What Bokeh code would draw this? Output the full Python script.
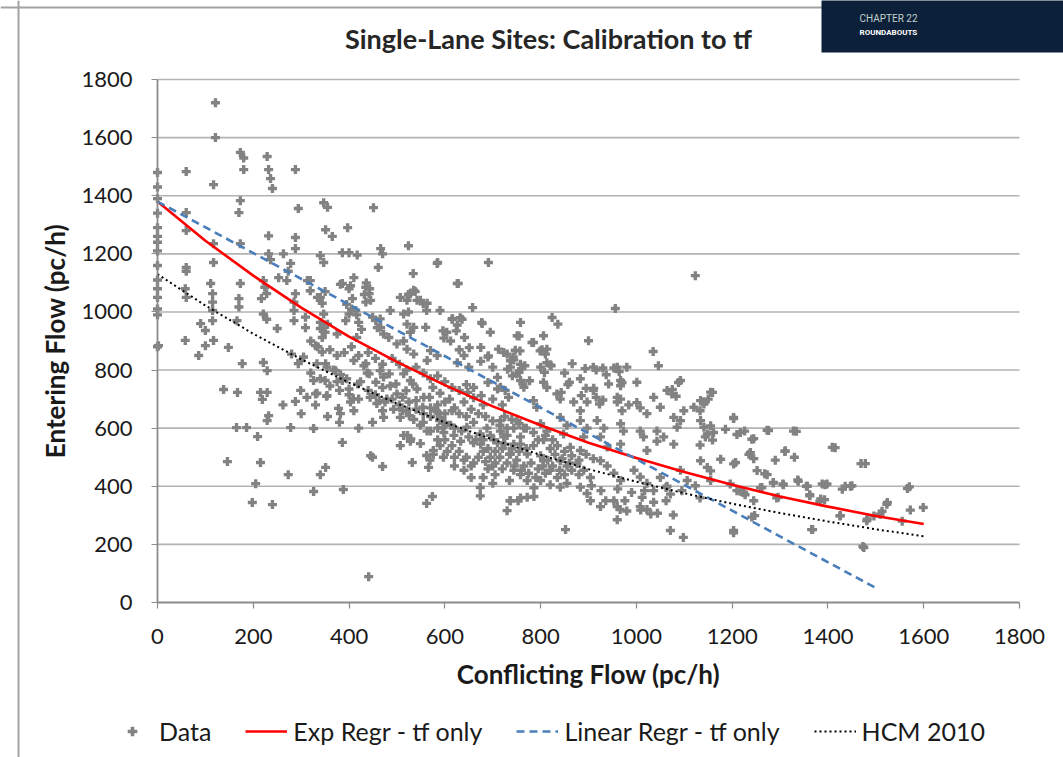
from bokeh.plotting import figure
from bokeh.models import Range1d, Label, Legend, LegendItem, BoxAnnotation, FixedTicker, Span
from bokeh.embed import file_html
from bokeh.resources import INLINE

# ---------------- data ----------------
pts_axis = [(0,1480),(0,1430),(0,1390),(0,1340),(0,1290),(0,1260),(0,1240),(0,1210),(0,1160),
            (0,1110),(0,1080),(0,1050),(0,1010),(0,990),(0,880)]

pts_upper_left = [(121,1720),(121,1600),(60,1483),(117,1438),(173,1549),(180,1530),(180,1490),(229,1535),
    (232,1490),(236,1459),(240,1425),(288,1490),(173,1383),(170,1342),(60,1342),(60,1280),(117,1235),
    (117,1170),(60,1153),(173,1235),(232,1262),(288,1256),(294,1356),(347,1376),(355,1360),(397,1290),
    (351,1283),(365,1260),(451,1359),(466,1218),(470,1200),(524,1228),(585,1170),(386,1204),(400,1204),
    (417,1196),(340,1194),(347,1170),(288,1218),(263,1200),(232,1200),(236,1180),(278,1167),(273,1140),
    (60,1140),(111,1098),(115,1063),(58,1080),(60,1050),(115,1034),(115,1005),(115,970),(173,1098),
    (170,1046),(170,1017),(166,970),(221,1108),(224,1085),(217,1046),(228,1063),(221,993),(228,975),
    (253,1118),(270,1108),(288,1063),(285,1034),(285,1005),(285,970),(250,943),(313,1108),(334,1050),
    (347,993),(355,958),(386,1098),(400,1080),(407,1046),(414,1005),(435,1085),(442,1063),(435,1034),
    (400,993),(393,970),(449,982),(456,970),(466,947),(528,1063),(535,1075),(521,1040),(542,1040),
    (555,1028),(562,1005),(590,1005),(535,947),(560,947),(514,993),(486,1005),(375,924),(340,943),
    (596,935),(100,936),(117,902),(90,960)]

pts_lower_left = [(2,884),(58,902),(86,850),(100,884),(148,878),(177,822),(221,826),(229,798),(138,733),
    (167,723),(215,723),(229,723),(219,699),(288,692),(232,643),(229,626),(165,602),(186,602),(278,602),
    (326,599),(209,571),(146,485),(215,482),(273,440),(340,440),(351,465),(205,409),(198,344),(240,337),
    (326,382),(388,389),(386,551),(378,668),(382,650),(441,89),(449,620),(449,500),(470,468),(522,575),
    (529,563),(549,547),(532,482),(562,506),(569,490),(566,465),(562,341),(574,365),(576,523),(585,560),
    (326,764),(350,764),(330,718),(353,710),(294,822),(280,855),(330,884),(344,862),(351,822),(372,798),
    (386,764),(400,735),(409,701),(418,752),(435,822),(442,787),(456,758),(470,740),(484,787),(498,752),
    (512,706),(519,729),(533,752),(540,695),(554,672),(568,706),(582,660),(589,626),(596,602),(463,695),
    (470,660),(512,660),(526,643),(262,680),(300,650),(330,680),(355,640),(380,620),(420,600)]

pts_upper_mid = [(691,1170),(628,1098),(1123,1125),(658,1015),(956,1012),(616,977),(632,980),(678,960),
    (695,930),(758,964),(755,917),(806,918),(824,981),(836,958),(785,895),(900,901),(1035,864),(1046,815),
    (1088,757),(1075,733),(1083,710),(1159,723),(1150,700),(1203,637),(866,822),(850,790),(893,805),
    (930,807),(937,784),(953,807),(970,757),(942,752),(857,750),(895,737),(911,737),(843,723),(885,712),
    (967,700),(930,697),(897,690),(799,866),(813,872),(757,866),(743,845),(712,872),(691,849),(675,830),
    (651,877),(641,912),(624,935),(767,815),(777,763),(763,752),(822,815),(808,792),(741,780),(731,803),
    (710,735),(690,757),(676,712),(648,723)]

pts_core_a = [(461,1153),(534,1132),(584,1167),(626,1098),(410,1118),(382,1095),(403,1090),(436,1100),
    (443,1080),(432,1060),(445,1040),(350,1070),(340,1050),(344,1030),(319,1108),(319,1073),(395,1026),
    (405,1010),(416,990),(420,964),(426,940),(416,912),(340,964),(347,946),(350,930),(344,912),(309,982),
    (309,946),(465,976),(459,946),(472,924),(483,912),(507,1050),(524,1060),(538,1070),(549,1040),
    (563,1030),(524,1000),(615,975),(626,955),(636,975),(677,964),(604,930),(598,910),(612,900),(521,958),
    (528,930),(514,900),(500,890),(521,872),(535,855),(570,867),(584,850),(563,833),(630,870),(640,850),
    (626,825),(650,810),(675,878),(690,845),(700,810),(710,775),(730,855),(744,835),(737,810),(750,787),
    (299,833),(305,845),(333,822),(354,810),(368,800),(382,785),(375,760),(395,770),(410,833),(431,815),
    (438,790),(424,760),(465,798),(472,776),(486,745),(500,718),(514,787),(528,764),(542,735),(556,706),
    (333,720),(354,712),(299,730),(312,706),(444,706),(458,685),(479,700),(493,665),(507,637),(403,690),
    (410,660),(472,637),(520,660),(535,630),(549,610),(563,590),(570,640),(590,637),(612,610),(598,585),
    (619,575),(633,555),(646,603),(660,620),(674,580),(688,600),(702,560),(716,590),(730,575),(744,600),
    (758,545),(514,575),(528,555),(507,540),(576,510),(597,500),(445,505)]

pts_core_b = [(751,918),(782,895),(803,870),(810,855),(723,860),(747,868),(737,832),(758,820),(760,805),
    (755,792),(800,810),(813,825),(820,818),(883,770),(860,758),(806,758),(813,740),(910,810),(916,800),
    (960,810),(964,795),(980,810),(967,764),(967,746),(1001,758),(1092,764),(1064,730),(1074,718),
    (1155,724),(1134,695),(1141,683),(716,741),(726,730),(733,706),(758,764),(765,741),(785,695),(792,672),
    (834,718),(841,700),(869,690),(883,660),(910,730),(916,706),(923,683),(960,706),(960,690),(970,660),
    (984,680),(1001,688),(1008,670),(1022,650),(1036,706),(1050,672),(1078,637),(1092,626),(1085,603),
    (1134,626),(1141,603),(1148,580),(1161,585),(1099,660),(1120,672),(1043,590),(1057,570),(1043,555),
    (1078,545),(1008,590),(1015,570),(1022,523),(967,615),(973,590),(967,545),(918,626),(932,600),
    (925,570),(939,535),(883,626),(897,600),(890,570),(883,523),(841,637),(855,610),(848,580),(862,534),
    (800,615),(813,590),(806,560),(820,530),(806,488),(751,626),(765,600),(758,570),(744,545),(772,511),
    (716,626),(730,600),(723,570),(737,511),(841,488),(855,470),(876,478),(890,455),(904,430),(925,488),
    (939,470),(953,445),(967,420),(995,455),(1008,432),(1022,410),(1036,385),(1050,430),(1064,400),
    (1071,373),(1092,455),(1106,420),(1134,488),(1148,465),(1155,420),(744,455),(758,440),(772,420),
    (786,395),(800,420),(820,405),(841,397),(855,410),(883,397),(897,375),(904,350),(925,330),(953,350),
    (960,330),(980,315),(1008,330),(1022,320),(737,350),(758,360),(786,365)]

pts_core_c = [(600,560),(615,540),(630,520),(645,500),(660,480),(620,470),(640,455),(655,430),(680,520),
    (695,500),(705,480),(690,460),(705,440),(720,460),(735,420),(700,410),(680,430),(660,550),(675,545),
    (690,530),(705,520),(720,530),(735,510),(750,490),(765,470),(780,480),(795,460),(810,445),(825,470),
    (840,455),(600,620),(585,600),(570,590),(555,620),(600,650),(620,670),(640,690),(660,705),(680,680),
    (700,700),(720,680),(610,700),(590,720),(575,740)]

pts_core_d = [(585,680),(600,690),(615,660),(630,650),(645,640),(655,665),(670,650),(685,640),(700,625),
    (715,610),(725,640),(740,630),(755,615),(770,600),(785,585),(795,560),(810,575),(825,560),(835,540),
    (850,520),(865,505),(880,490),(895,510),(910,495),(620,600),(635,590),(650,570),(665,560),(680,560),
    (695,575),(710,550),(725,545),(740,530),(755,520),(770,530),(785,540),(800,505),(815,490),(830,510),
    (845,495),(860,480),(590,540),(605,520),(620,500),(640,490),(655,470),(670,500),(685,485),(700,470),
    (715,500),(730,480),(745,470),(760,455),(775,445),(790,430),(805,470),(820,455),(835,430),(850,440),
    (865,455),(880,440),(320,900),(335,880),(360,870),(375,850),(390,860),(405,880),(420,850),(440,860),
    (455,840),(470,820),(490,840),(505,820),(520,800),(540,810),(555,790),(570,770),(585,780),(600,760),
    (615,740),(630,730),(645,750),(660,740),(320,790),(340,770),(360,745),(380,730),(400,715),(420,700),
    (440,730),(455,715),(475,690),(490,700),(505,680),(525,690),(540,665),(555,650),(570,670),(585,655)]

pts_lower_mid = [(674,396),(674,367),(730,316),(736,350),(753,350),(772,362),(852,251),(960,285),(1071,248),
    (1098,224),(1203,248),(1077,301),(1044,307),(1030,305),(1009,318),(936,350),(966,320),(976,350),
    (1012,362),(1036,345),(926,385),(906,402),(961,391),(990,379),(1017,385),(1062,350),(1062,396),
    (1095,385),(1123,402)]

pts_right = [(1203,633),(1217,585),(1226,590),(1245,564),(1276,592),(1334,589),(1207,482),(1235,510),
    (1245,495),(1252,454),(1268,443),(1290,490),(1310,520),(1330,500),(1415,533),(1478,478),(1286,413),
    (1306,408),(1337,422),(1357,400),(1388,408),(1398,408),(1430,390),(1447,400),(1566,392),(1570,398),
    (1524,344),(1572,318),(1599,327),(1513,314),(1496,298),(1482,287),(1555,280),(1475,189),(1368,251),
    (1426,299),(1385,356),(1362,367),(1296,362),(1247,299),(1203,240),(1224,379),(1210,385),(1262,396),
    (1196,408),(1245,350),(1140,690),(1133,660),(1186,596),(1155,608),(1144,570),(1159,559),(1133,542),
    (1210,578),(1241,562),(1273,593),(1328,590),(1238,516),(1311,522),(1409,534),(1469,478),(1176,493),
    (1155,453),(1203,477),(1273,440),(1286,411),(1307,405),(1338,417),(1355,400),(1394,405),(1436,400),
    (1450,402),(1217,383),(1227,371),(1259,395),(1293,360),(1362,371),(1383,348),(1393,354),(1425,298),
    (1481,281),(1509,304),(1523,338),(1241,294),(1366,251),(1473,193),(1133,360)]

curve_x = [0, 100, 200, 300, 400, 500, 600, 700, 800, 900, 1000, 1100, 1200, 1300, 1400, 1500, 1600]
exp_y = [1380, 1245, 1125, 1015, 915, 828, 748, 675, 610, 550, 497, 449, 405, 365, 330, 298, 270]
hcm_y = [1130, 1022, 925, 837, 757, 685, 620, 561, 508, 459, 416, 376, 340, 308, 279, 252, 228]
lin_x = [0, 1500]
lin_y = [1380, 50]

axis_ticks = [0, 200, 400, 600, 800, 1000, 1200, 1400, 1600, 1800]

all_pts = (pts_axis + pts_upper_left + pts_lower_left + pts_upper_mid + pts_core_a +
           pts_core_b + pts_core_c + pts_core_d + pts_lower_mid + pts_right)
data_x = [q[0] for q in all_pts]
data_y = [q[1] for q in all_pts]

FONT = "Lato"
W, H = 1063, 757
# plot area (0..1800 on both axes) sits at px 157..1019 horizontally and 79..602 vertically
kx = 862 / 1800.0
ky = 523 / 1800.0
x_range = Range1d(-157 / kx, (W - 157) / kx)
y_range = Range1d(-(H - 602) / ky, 602 / ky)

p = figure(width=W, height=H, output_backend="svg", toolbar_location=None,
           x_range=x_range, y_range=y_range, title=None,
           min_border_left=0, min_border_right=0, min_border_top=0, min_border_bottom=0)
p.outline_line_color = None
p.background_fill_color = "white"
p.border_fill_color = "white"
p.grid.visible = False

# outer chart border (left and top edges)
p.add_layout(Span(location=(18 - 157) / kx, dimension="height", line_color="#a3a3a3", line_width=2))
p.add_layout(Span(location=(602 - 7) / ky, dimension="width", line_color="#a3a3a3", line_width=2))

# horizontal gridlines at the tick values
grid_vals = axis_ticks[1:]
p.segment(x0=[axis_ticks[0]] * len(grid_vals), x1=[axis_ticks[-1]] * len(grid_vals),
          y0=grid_vals, y1=grid_vals, line_color="#b3b3b3", line_width=1.6, level="underlay")

for ax in (p.xaxis[0], p.yaxis[0]):
    ax.fixed_location = 0
    ax.bounds = (axis_ticks[0], axis_ticks[-1])
    ax.ticker = FixedTicker(ticks=axis_ticks)
    ax.axis_line_color = "#8c8c8c"
    ax.axis_line_width = 1.8
    ax.major_tick_line_color = "#8c8c8c"
    ax.major_tick_line_width = 1.2
    ax.major_tick_in = 0
    ax.major_tick_out = 6
    ax.minor_tick_line_color = None
    ax.major_label_text_font = FONT
    ax.major_label_text_font_size = "22px"
    ax.major_label_text_color = "#1a1a1a"
    ax.axis_label_text_font = FONT
    ax.axis_label_text_font_style = "bold"
    ax.axis_label_text_font_size = "26px"
    ax.axis_label_text_color = "#1a1a1a"

p.yaxis.axis_label = "Entering Flow (pc/h)"
p.xaxis.axis_label = "Conflicting Flow (pc/h)"
p.yaxis.major_label_standoff = 19
p.xaxis.major_label_standoff = 20
p.yaxis.axis_label_standoff = 7
p.xaxis.axis_label_standoff = 11

# chapter box and title
p.add_layout(BoxAnnotation(left=(821 - 157) / kx, right=3000, top=3000, bottom=(602 - 52) / ky,
                           fill_color="#0c2039", fill_alpha=1, line_color=None))
p.add_layout(Label(x=(859 - 157) / kx, y=(602 - 18) / ky, text="CHAPTER 22", text_font="Roboto",
                   text_font_size="10px", text_color="#c2d2cb", text_baseline="middle"))
p.add_layout(Label(x=(859 - 157) / kx, y=(602 - 32) / ky, text="ROUNDABOUTS", text_font="Roboto",
                   text_font_style="bold", text_font_size="8px", text_color="#ffffff",
                   text_baseline="middle"))
p.add_layout(Label(x=(548 - 157) / kx, y=(602 - 38) / ky, text="Single-Lane Sites: Calibration to tf",
                   text_font=FONT, text_font_style="bold", text_font_size="27px", text_color="#262626",
                   text_align="center", text_baseline="middle"))

pts = p.scatter(data_x, data_y, marker="plus", size=9, fill_color="#828282", line_color=None)
r_exp = p.line(curve_x, exp_y, line_color="#ff0000", line_width=2.6)
r_lin = p.line(lin_x, lin_y, line_color="#4a7ebb", line_width=2.6, line_dash="8 5")
r_hcm = p.line(curve_x, hcm_y, line_color="#000000", line_width=2, line_dash="2 3")

legend = Legend(items=[LegendItem(label="Data", renderers=[pts], index=0),
                       LegendItem(label="Exp Regr - tf only", renderers=[r_exp]),
                       LegendItem(label="Linear Regr - tf only", renderers=[r_lin]),
                       LegendItem(label="HCM 2010", renderers=[r_hcm])],
                orientation="horizontal", location=(111, 11), glyph_width=42, glyph_height=24,
                label_height=24, label_standoff=6, spacing=34, padding=0, margin=0,
                border_line_color=None, background_fill_alpha=0, label_text_font=FONT,
                label_text_font_size="25px", label_text_color="#1a1a1a")
p.add_layout(legend, "center")

open("out.html", "w").write(file_html(p, INLINE))
